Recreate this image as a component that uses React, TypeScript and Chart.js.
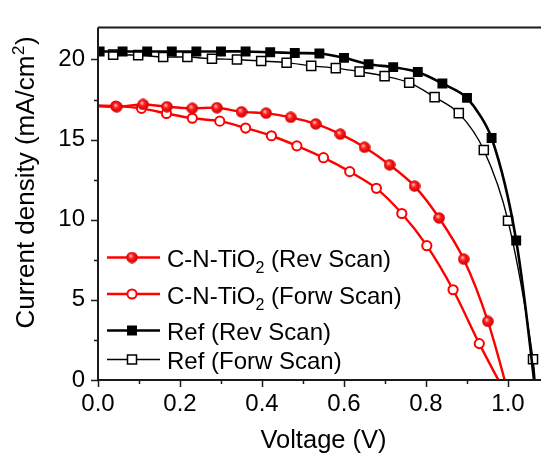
import React, { useEffect, useRef } from "react";
import { Chart, registerables } from "chart.js";

Chart.register(...registerables);

// ---- Data ----
const redRevV = [-0.014, 0.046, 0.11, 0.168, 0.23, 0.29, 0.35, 0.41, 0.47, 0.531, 0.591, 0.65, 0.711, 0.772, 0.832, 0.892, 0.951, 1.011];
const redRevJ = [17.1, 17.05, 17.19, 17.05, 16.95, 16.99, 16.73, 16.65, 16.39, 15.98, 15.34, 14.52, 13.43, 12.1, 10.11, 7.54, 3.66, -1.8];

const redForwV = [-0.02, 0.043, 0.106, 0.167, 0.23, 0.297, 0.36, 0.423, 0.485, 0.55, 0.614, 0.679, 0.741, 0.802, 0.866, 0.93, 0.993];
const redForwJ = [17.15, 17.09, 16.95, 16.63, 16.33, 16.15, 15.72, 15.24, 14.61, 13.87, 13.0, 11.96, 10.39, 8.38, 5.63, 2.27, -0.8];

const refRevV = [0.004, 0.06, 0.12, 0.18, 0.24, 0.3, 0.36, 0.42, 0.48, 0.54, 0.6, 0.66, 0.72, 0.78, 0.84, 0.9, 0.96, 1.02, 1.075];
const refRevJ = [20.5, 20.5, 20.5, 20.5, 20.5, 20.5, 20.5, 20.45, 20.4, 20.37, 20.1, 19.7, 19.52, 19.22, 18.5, 17.6, 15.1, 8.7, -2.5];

const refForwV = [0.037, 0.098, 0.159, 0.218, 0.278, 0.339, 0.398, 0.46, 0.52, 0.58, 0.638, 0.699, 0.759, 0.821, 0.88, 0.941, 1.0, 1.061, 1.072];
const refForwJ = [20.3, 20.27, 20.15, 20.15, 20.04, 20.0, 19.9, 19.8, 19.6, 19.46, 19.24, 18.96, 18.55, 17.65, 16.65, 14.35, 9.94, 1.3, -3];

const xMajorTicks = [0, 0.2, 0.4, 0.6, 0.8, 1.0];
const xMinorTicks = [0.1, 0.3, 0.5, 0.7, 0.9, 1.1];
const yMajorTicks = [0, 5, 10, 15, 20];
const yMinorTicks = [2.5, 7.5, 12.5, 17.5];

const legendLabels = [
  ["C-N-TiO", "2", " (Rev Scan)"],
  ["C-N-TiO", "2", " (Forw Scan)"],
  ["Ref (Rev Scan)", "", ""],
  ["Ref (Forw Scan)", "", ""],
];
const xTitle = "Voltage (V)";
const yTitleMain = "Current density (mA/cm";
const yTitleSup = "2";
const yTitleEnd = ")";

const FONT = '"Liberation Sans", Arial, Helvetica, sans-serif';
const RED = "#ff0000";

function toPts(v: number[], j: number[]) {
  return v.map((x, i) => ({ x, y: j[i] }));
}

function makeSphere(d: number) {
  const c = document.createElement("canvas");
  c.width = d;
  c.height = d;
  const g = c.getContext("2d")!;
  const r = d / 2;
  const grad = g.createRadialGradient(r * 0.75, r * 0.7, r * 0.05, r, r, r);
  grad.addColorStop(0, "#ffc0c0");
  grad.addColorStop(0.4, "#ff1a1a");
  grad.addColorStop(1, "#cc0000");
  g.fillStyle = grad;
  g.beginPath();
  g.arc(r, r, r - 0.2, 0, Math.PI * 2);
  g.fill();
  return c;
}

export default function App() {
  const ref = useRef<HTMLCanvasElement | null>(null);

  useEffect(() => {
    const canvas = ref.current!;
    const sphere = makeSphere(12);

    const framePlugin = {
      id: "frameAndText",
      afterDatasetsDraw(chart: any) {
        const ctx = chart.ctx as CanvasRenderingContext2D;
        const a = chart.chartArea;
        const xs = chart.scales.x;
        const ys = chart.scales.y;
        ctx.save();
        // frame
        ctx.strokeStyle = "#1a1a1a";
        ctx.lineWidth = 2;
        ctx.beginPath();
        ctx.moveTo(a.left, a.top);
        ctx.lineTo(a.right + 20, a.top);
        ctx.moveTo(a.left, a.top);
        ctx.lineTo(a.left, a.bottom);
        ctx.lineTo(a.right + 20, a.bottom);
        ctx.stroke();
        // ticks
        ctx.lineWidth = 1.5;
        ctx.beginPath();
        xMajorTicks.forEach((v) => {
          const px = Math.round(xs.getPixelForValue(v)) + 0.5;
          ctx.moveTo(px, a.bottom);
          ctx.lineTo(px, a.bottom + 7);
        });
        xMinorTicks.forEach((v) => {
          const px = Math.round(xs.getPixelForValue(v)) + 0.5;
          ctx.moveTo(px, a.bottom);
          ctx.lineTo(px, a.bottom + 4);
        });
        yMajorTicks.forEach((v) => {
          const py = Math.round(ys.getPixelForValue(v)) + 0.5;
          ctx.moveTo(a.left, py);
          ctx.lineTo(a.left - 7, py);
        });
        yMinorTicks.forEach((v) => {
          const py = Math.round(ys.getPixelForValue(v)) + 0.5;
          ctx.moveTo(a.left, py);
          ctx.lineTo(a.left - 4, py);
        });
        ctx.stroke();
        ctx.restore();
      },
      afterDraw(chart: any) {
        const ctx = chart.ctx as CanvasRenderingContext2D;
        const a = chart.chartArea;
        ctx.save();
        ctx.fillStyle = "#000";
        // x title
        ctx.font = `25.5px ${FONT}`;
        ctx.textAlign = "center";
        ctx.textBaseline = "alphabetic";
        ctx.fillText(xTitle, 323.5, 448);
        // y title (rotated)
        ctx.save();
        ctx.translate(0, 183);
        ctx.rotate(-Math.PI / 2);
        ctx.textAlign = "left";
        const fMain = `26px ${FONT}`;
        const fSup = `17px ${FONT}`;
        ctx.font = fMain;
        const w1 = ctx.measureText(yTitleMain).width;
        const w3 = ctx.measureText(yTitleEnd).width;
        ctx.font = fSup;
        const w2 = ctx.measureText(yTitleSup).width;
        let x0 = -(w1 + w2 + w3) / 2;
        const base = 33.5;
        ctx.font = fMain;
        ctx.fillText(yTitleMain, x0, base);
        x0 += w1;
        ctx.font = fSup;
        ctx.fillText(yTitleSup, x0 + 0.5, base - 10);
        x0 += w2 + 1;
        ctx.font = fMain;
        ctx.fillText(yTitleEnd, x0, base);
        ctx.restore();

        // legend
        const lineY = [257.5, 294, 330.5, 359.5];
        const baseY = [267, 304, 339.5, 368.5];
        const styles = [
          { color: RED, width: 2.4, kind: "sphere" },
          { color: RED, width: 2.4, kind: "openCircle" },
          { color: "#000", width: 2.6, kind: "filledSquare" },
          { color: "#000", width: 1.4, kind: "openSquare" },
        ];
        styles.forEach((s, i) => {
          const y = lineY[i];
          ctx.strokeStyle = s.color;
          ctx.lineWidth = s.width;
          ctx.beginPath();
          ctx.moveTo(107, y);
          ctx.lineTo(160, y);
          ctx.stroke();
          const mx = 132;
          if (s.kind === "sphere") {
            ctx.drawImage(sphere, mx - 6, y - 6);
          } else if (s.kind === "openCircle") {
            ctx.fillStyle = "#fff";
            ctx.strokeStyle = RED;
            ctx.lineWidth = 2;
            ctx.beginPath();
            ctx.arc(mx, y, 4.6, 0, Math.PI * 2);
            ctx.fill();
            ctx.stroke();
          } else if (s.kind === "filledSquare") {
            ctx.fillStyle = "#000";
            ctx.fillRect(mx - 5, y - 5, 10, 10);
          } else {
            ctx.fillStyle = "#fff";
            ctx.strokeStyle = "#000";
            ctx.lineWidth = 1.5;
            ctx.fillRect(mx - 4.5, y - 4.5, 9, 9);
            ctx.strokeRect(mx - 4.5, y - 4.5, 9, 9);
          }
          const [p1, sub, p3] = legendLabels[i];
          ctx.fillStyle = "#000";
          ctx.textAlign = "left";
          ctx.textBaseline = "alphabetic";
          let tx = 167;
          ctx.font = `24px ${FONT}`;
          ctx.fillText(p1, tx, baseY[i]);
          tx += ctx.measureText(p1).width;
          if (sub) {
            ctx.font = `16px ${FONT}`;
            ctx.fillText(sub, tx, baseY[i] + 6);
            tx += ctx.measureText(sub).width;
          }
          if (p3) {
            ctx.font = `24px ${FONT}`;
            ctx.fillText(p3, tx, baseY[i]);
          }
        });
        ctx.restore();
      },
    };

    const clip = { left: 0, top: 8, right: 8, bottom: 0 };

    const chart = new Chart(canvas, {
      type: "line",
      data: {
        datasets: [
          {
            label: "C-N-TiO2 (Rev Scan)",
            data: toPts(redRevV, redRevJ),
            borderColor: RED,
            borderWidth: 2.4,
            pointStyle: sphere as any,
            pointRadius: 6,
            tension: 0.3,
            clip: clip as any,
          },
          {
            label: "C-N-TiO2 (Forw Scan)",
            data: toPts(redForwV, redForwJ),
            borderColor: RED,
            borderWidth: 2.4,
            pointStyle: "circle",
            pointRadius: 4.6,
            pointBorderWidth: 2,
            pointBorderColor: RED,
            pointBackgroundColor: "#fff",
            tension: 0.3,
            clip: clip as any,
          },
          {
            label: "Ref (Rev Scan)",
            data: toPts(refRevV, refRevJ),
            borderColor: "#000",
            borderWidth: 2.6,
            pointStyle: "rect",
            pointRadius: 7,
            pointBorderWidth: 0,
            pointBackgroundColor: "#000",
            tension: 0.3,
            clip: clip as any,
          },
          {
            label: "Ref (Forw Scan)",
            data: toPts(refForwV, refForwJ),
            borderColor: "#000",
            borderWidth: 1.4,
            pointStyle: "rect",
            pointRadius: 6.4,
            pointBorderWidth: 1.5,
            pointBorderColor: "#000",
            pointBackgroundColor: "#fff",
            tension: 0.3,
            clip: clip as any,
          },
        ],
      },
      options: {
        responsive: false,
        animation: false,
        events: [],
        layout: { padding: { top: 15, right: 11, left: 0, bottom: 0 } },
        plugins: {
          legend: { display: false },
          tooltip: { enabled: false },
          title: { display: false },
        },
        scales: {
          x: {
            type: "linear",
            min: 0,
            max: 1.1,
            grid: { display: false, drawTicks: false },
            border: { display: false },
            ticks: {
              stepSize: 0.2,
              includeBounds: false,
              padding: 10,
              color: "#000",
              font: { family: FONT, size: 24 },
              callback: (v: any) => Number(v).toFixed(1),
            },
            afterFit: (s: any) => {
              s.height = 75;
            },
          },
          y: {
            type: "linear",
            min: 0,
            max: 22,
            grid: { display: false, drawTicks: false },
            border: { display: false },
            ticks: {
              stepSize: 5,
              includeBounds: false,
              padding: 13,
              color: "#000",
              font: { family: FONT, size: 24 },
              callback: (v: any) => String(v),
            },
            afterFit: (s: any) => {
              s.width = 98;
            },
          },
        },
      },
      plugins: [framePlugin],
    });

    return () => chart.destroy();
  }, []);

  return (
    <div
      style={{
        position: "fixed",
        left: 0,
        top: 0,
        width: 541,
        height: 455,
        overflow: "hidden",
        background: "#fff",
      }}
    >
      <canvas ref={ref} width={560} height={455} style={{ width: 560, height: 455, display: "block" }} />
    </div>
  );
}
